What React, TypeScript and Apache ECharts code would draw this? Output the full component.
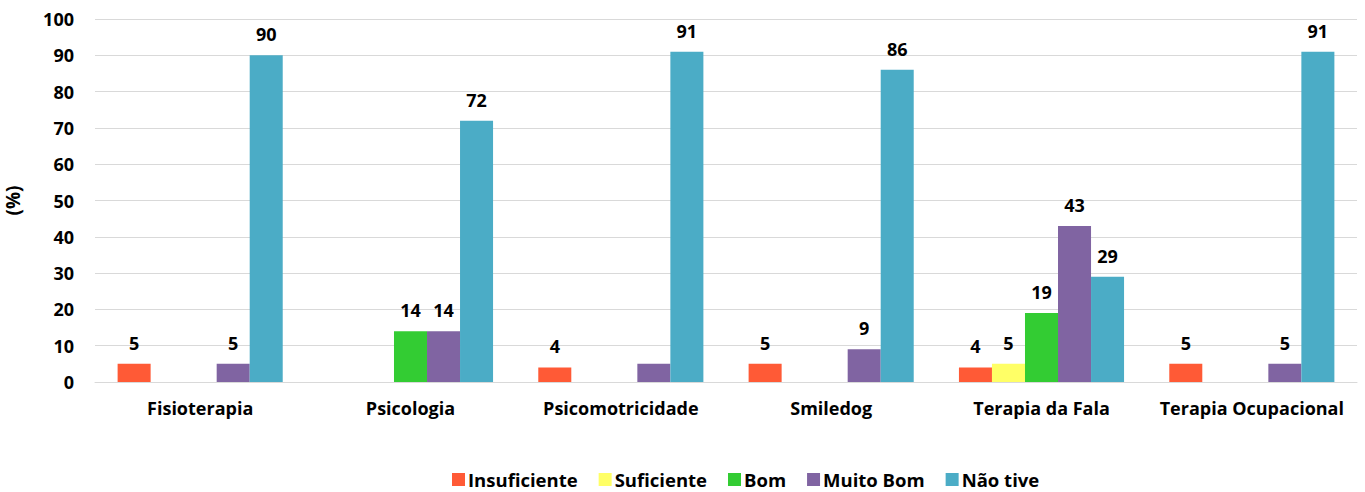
import React, { useEffect, useRef } from "react";
import * as echarts from "echarts";

const categories = [
  "Fisioterapia",
  "Psicologia",
  "Psicomotricidade",
  "Smiledog",
  "Terapia da Fala",
  "Terapia Ocupacional",
];
const seriesNames = ["Insuficiente", "Suficiente", "Bom", "Muito Bom", "Não tive"];
const insuficiente = [5, null, 4, 5, 4, 5];
const suficiente = [null, null, null, null, 5, null];
const bom = [null, 14, null, null, 19, null];
const muitoBom = [5, 14, 5, 9, 43, 5];
const naoTive = [90, 72, 91, 86, 29, 91];
// labels that are not shown in the original (series index, category index)
const hiddenLabels: [number, number][] = [[3, 2]];
const yTicks = { min: 0, max: 100, interval: 10 };
const colors = ["#FF5A36", "#FFFF66", "#33CC33", "#8064A2", "#4BACC6"];

const FONT = "Open Sans";

export default function App() {
  const ref = useRef<HTMLDivElement>(null);
  useEffect(() => {
    if (!ref.current) return;
    const chart = echarts.init(ref.current, undefined, { renderer: "svg" });
    const allData = [insuficiente, suficiente, bom, muitoBom, naoTive];
    const series = allData.map((arr, si) => ({
      name: seriesNames[si],
      type: "bar",
      barGap: "0%",
      barCategoryGap: "21.5%",
      itemStyle: { color: colors[si] },
      label: {
        show: true,
        position: "top",
        distance: 12,
        color: "#000",
        fontFamily: FONT,
        fontWeight: "bold",
        fontSize: 18,
      },
      data: arr.map((v, ci) =>
        v === null
          ? "-"
          : hiddenLabels.some(([s, c]) => s === si && c === ci)
          ? { value: v, label: { show: false } }
          : v
      ),
    }));
    chart.setOption({
      animation: false,
      color: colors,
      grid: { left: 95, right: 8, top: 19, bottom: 110, containLabel: false, outerBoundsMode: "none" },
      legend: {
        top: 465,
        left: 447,
        itemWidth: 13,
        itemHeight: 13,
        itemGap: 21,
        icon: "rect",
        textStyle: { fontFamily: FONT, fontWeight: "bold", fontSize: 18.5, color: "#000", padding: [0, 0, 0, -2] },
        data: seriesNames,
      },
      xAxis: {
        type: "category",
        data: categories,
        axisTick: { show: false },
        axisLine: { lineStyle: { color: "#d9d9d9" } },
        axisLabel: {
          color: "#000",
          fontFamily: FONT,
          fontWeight: "bold",
          fontSize: 18,
          margin: 17,
          interval: 0,
        },
      },
      yAxis: {
        type: "value",
        min: yTicks.min,
        max: yTicks.max,
        interval: yTicks.interval,
        name: "(%)",
        nameLocation: "middle",
        nameGap: 73,
        nameRotate: 90,
        nameTextStyle: { color: "#000", fontFamily: FONT, fontWeight: "bold", fontSize: 19 },
        axisLabel: {
          color: "#000",
          fontFamily: FONT,
          fontWeight: "bold",
          fontSize: 18,
          margin: 21,
        },
        splitLine: { lineStyle: { color: "#d9d9d9", width: 1 } },
        axisLine: { show: false },
        axisTick: { show: false },
      },
      series,
    });
    return () => chart.dispose();
  }, []);
  return (
    <div
      ref={ref}
      style={{ position: "absolute", left: 0, top: 0, width: 1365, height: 492 }}
    />
  );
}
